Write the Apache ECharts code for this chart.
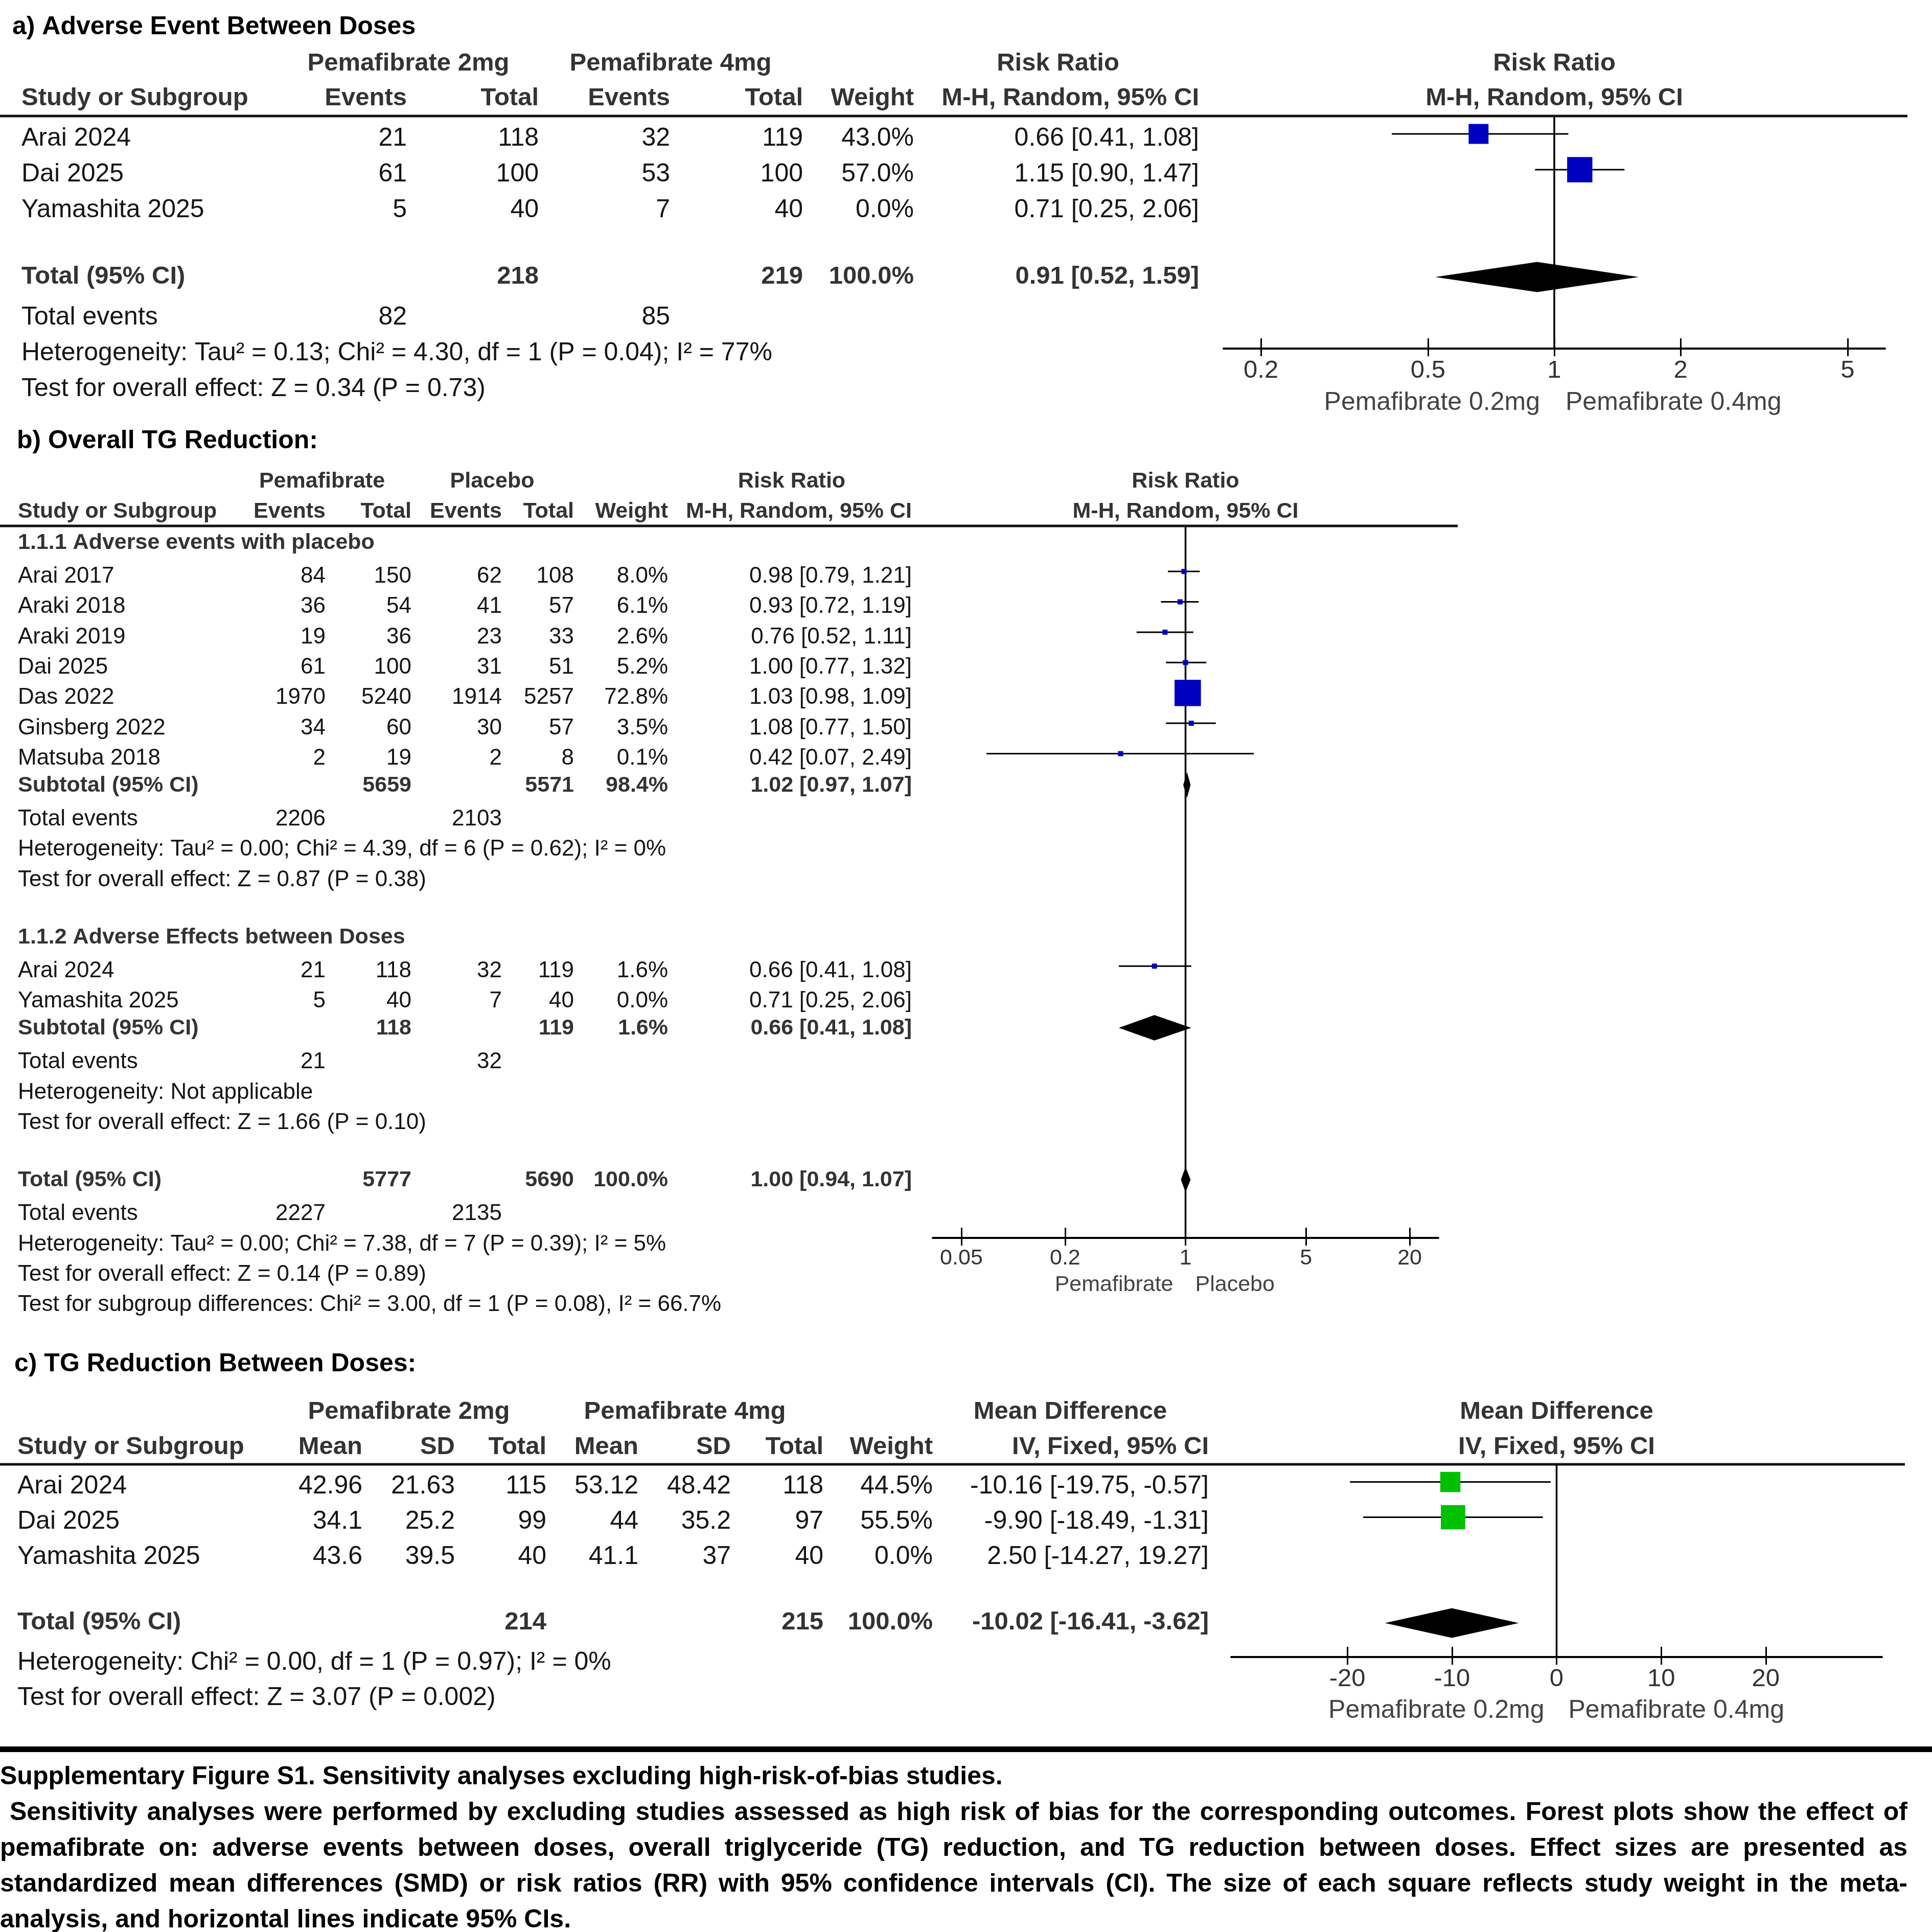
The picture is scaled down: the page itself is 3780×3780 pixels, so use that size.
<!DOCTYPE html>
<html>
<head>
<meta charset="utf-8">
<title>Supplementary Figure S1</title>
<script src="https://cdn.jsdelivr.net/npm/echarts@6.0.0/dist/echarts.min.js"></script>
<style>
  html, body { margin: 0; padding: 0; background: #fff; }
  #main { width: 3780px; height: 3780px; }
</style>
</head>
<body>
<div id="main"></div>
<script>
var FONT = '"Liberation Sans", Arial, Helvetica, sans-serif';

// ---- a) Adverse Event Between Doses ----
var aStudy = ['Arai 2024', 'Dai 2025', 'Yamashita 2025'];
var aEvents1 = [21, 61, 5];
var aTotal1 = [118, 100, 40];
var aEvents2 = [32, 53, 7];
var aTotal2 = [119, 100, 40];
var aWeight = [43.0, 57.0, 0.0];
var aRR = [0.66, 1.15, 0.71];
var aLow = [0.41, 0.90, 0.25];
var aHigh = [1.08, 1.47, 2.06];
var aPooled = [0.91, 0.52, 1.59];
var aSumTotal = [218, 219];
var aSumEvents = [82, 85];
var aTicks = [0.2, 0.5, 1, 2, 5];
var aHet = 'Heterogeneity: Tau² = 0.13; Chi² = 4.30, df = 1 (P = 0.04); I² = 77%';
var aTest = 'Test for overall effect: Z = 0.34 (P = 0.73)';

// ---- b) Overall TG Reduction ----
var b1Study = ['Arai 2017', 'Araki 2018', 'Araki 2019', 'Dai 2025', 'Das 2022', 'Ginsberg 2022', 'Matsuba 2018'];
var b1Events1 = [84, 36, 19, 61, 1970, 34, 2];
var b1Total1 = [150, 54, 36, 100, 5240, 60, 19];
var b1Events2 = [62, 41, 23, 31, 1914, 30, 2];
var b1Total2 = [108, 57, 33, 51, 5257, 57, 8];
var b1Weight = [8.0, 6.1, 2.6, 5.2, 72.8, 3.5, 0.1];
var b1RR = [0.98, 0.93, 0.76, 1.00, 1.03, 1.08, 0.42];
var b1Low = [0.79, 0.72, 0.52, 0.77, 0.98, 0.77, 0.07];
var b1High = [1.21, 1.19, 1.11, 1.32, 1.09, 1.50, 2.49];
var b1Sub = [1.02, 0.97, 1.07];
var b1SubTotal = [5659, 5571];
var b1SubWeight = 98.4;
var b1SubEvents = [2206, 2103];
var b1Het = 'Heterogeneity: Tau² = 0.00; Chi² = 4.39, df = 6 (P = 0.62); I² = 0%';
var b1Test = 'Test for overall effect: Z = 0.87 (P = 0.38)';

var b2Study = ['Arai 2024', 'Yamashita 2025'];
var b2Events1 = [21, 5];
var b2Total1 = [118, 40];
var b2Events2 = [32, 7];
var b2Total2 = [119, 40];
var b2Weight = [1.6, 0.0];
var b2RR = [0.66, 0.71];
var b2Low = [0.41, 0.25];
var b2High = [1.08, 2.06];
var b2Sub = [0.66, 0.41, 1.08];
var b2SubTotal = [118, 119];
var b2SubWeight = 1.6;
var b2SubEvents = [21, 32];
var b2Het = 'Heterogeneity: Not applicable';
var b2Test = 'Test for overall effect: Z = 1.66 (P = 0.10)';

var bPooled = [1.00, 0.94, 1.07];
var bSumTotal = [5777, 5690];
var bSumEvents = [2227, 2135];
var bTicks = [0.05, 0.2, 1, 5, 20];
var bHet = 'Heterogeneity: Tau² = 0.00; Chi² = 7.38, df = 7 (P = 0.39); I² = 5%';
var bTest = 'Test for overall effect: Z = 0.14 (P = 0.89)';
var bSubgroup = 'Test for subgroup differences: Chi² = 3.00, df = 1 (P = 0.08), I² = 66.7%';

// ---- c) TG Reduction Between Doses ----
var cStudy = ['Arai 2024', 'Dai 2025', 'Yamashita 2025'];
var cMean1 = [42.96, 34.1, 43.6];
var cSD1 = [21.63, 25.2, 39.5];
var cTotal1 = [115, 99, 40];
var cMean2 = [53.12, 44, 41.1];
var cSD2 = [48.42, 35.2, 37];
var cTotal2 = [118, 97, 40];
var cWeight = [44.5, 55.5, 0.0];
var cMD = [-10.16, -9.90, 2.50];
var cLow = [-19.75, -18.49, -14.27];
var cHigh = [-0.57, -1.31, 19.27];
var cPooled = [-10.02, -16.41, -3.62];
var cSumTotal = [214, 215];
var cTicks = [-20, -10, 0, 10, 20];
var cHet = 'Heterogeneity: Chi² = 0.00, df = 1 (P = 0.97); I² = 0%';
var cTest = 'Test for overall effect: Z = 3.07 (P = 0.002)';

var capTitle = 'Supplementary Figure S1. Sensitivity analyses excluding high-risk-of-bias studies.';
var capLines = [
    ' Sensitivity analyses were performed by excluding studies assessed as high risk of bias for the corresponding outcomes. Forest plots show the effect of',
    'pemafibrate on: adverse events between doses, overall triglyceride (TG) reduction, and TG reduction between doses. Effect sizes are presented as',
    'standardized mean differences (SMD) or risk ratios (RR) with 95% confidence intervals (CI). The size of each square reflects study weight in the meta-',
    'analysis, and horizontal lines indicate 95% CIs.'
];

// panel geometry (pixels) - top = header rule, bottom = x axis line
var LA = {top: 227, bottom: 682, left: 2394, right: 3688, rowH: 70, xMin: -0.788, xMax: 0.788, fs: 50};
var LB = {top: 1029, bottom: 2422, left: 1825, right: 2814, rowH: 59.4, xMin: -1.467, xMax: 1.467, fs: 44};
var LC = {top: 2865, bottom: 3242, left: 2409, right: 3682, rowH: 69, xMin: -31.1, xMax: 31.1, fs: 50};

function log10(v) { return Math.log(v) / Math.LN10; }
function ci(e, lo, hi) { return e.toFixed(2) + ' [' + lo.toFixed(2) + ', ' + hi.toFixed(2) + ']'; }
function pct(w) { return w.toFixed(1) + '%'; }
function mid(L) { return (L.left + L.right) / 2; }

// row helpers: kind = 'hdr' | 'bold' | 'body'
function row(y, kind, cells) { return {y: y, kind: kind, cells: cells}; }

// ---------- table rows ----------
var aRows = [
    row(-1.47, 'hdr', [['Pemafibrate 2mg', 799, 'center'], ['Pemafibrate 4mg', 1312, 'center'], ['Risk Ratio', 2070, 'center'], ['Risk Ratio', mid(LA), 'center']]),
    row(-0.5, 'hdr', [['Study or Subgroup', 42, 'left'], ['Events', 796, 'right'], ['Total', 1054, 'right'], ['Events', 1311, 'right'],
        ['Total', 1571, 'right'], ['Weight', 1788, 'right'], ['M-H, Random, 95% CI', 2346, 'right'], ['M-H, Random, 95% CI', mid(LA), 'center']])
];
aStudy.forEach(function (s, i) {
    aRows.push(row(i + 0.63, 'body', [[s, 42, 'left'], [String(aEvents1[i]), 796, 'right'], [String(aTotal1[i]), 1054, 'right'],
        [String(aEvents2[i]), 1311, 'right'], [String(aTotal2[i]), 1571, 'right'], [pct(aWeight[i]), 1788, 'right'],
        [ci(aRR[i], aLow[i], aHigh[i]), 2346, 'right']]));
});
aRows.push(row(4.49, 'bold', [['Total (95% CI)', 42, 'left'], [String(aSumTotal[0]), 1054, 'right'], [String(aSumTotal[1]), 1571, 'right'],
    [pct(100), 1788, 'right'], [ci(aPooled[0], aPooled[1], aPooled[2]), 2346, 'right']]));
aRows.push(row(5.63, 'body', [['Total events', 42, 'left'], [String(aSumEvents[0]), 796, 'right'], [String(aSumEvents[1]), 1311, 'right']]));
aRows.push(row(6.63, 'body', [[aHet, 42, 'left']]));
aRows.push(row(7.63, 'body', [[aTest, 42, 'left']]));

var BX = {name: 35, ev1: 637, n1: 805, ev2: 982, n2: 1123, w: 1307, ci: 1784};
var bRows = [
    row(-1.47, 'hdr', [['Pemafibrate', 630, 'center'], ['Placebo', 963, 'center'], ['Risk Ratio', 1549, 'center'], ['Risk Ratio', mid(LB), 'center']]),
    row(-0.47, 'hdr', [['Study or Subgroup', BX.name, 'left'], ['Events', BX.ev1, 'right'], ['Total', BX.n1, 'right'], ['Events', BX.ev2, 'right'],
        ['Total', BX.n2, 'right'], ['Weight', BX.w, 'right'], ['M-H, Random, 95% CI', BX.ci, 'right'], ['M-H, Random, 95% CI', mid(LB), 'center']])
];
function bGroup(start, title, st, e1, n1, e2, n2, w, rr, lo, hi, sub, subN, subW, subE, het, test) {
    bRows.push(row(start + 0.55, 'bold', [[title, BX.name, 'left']]));
    st.forEach(function (s, i) {
        bRows.push(row(start + 1 + i + 0.66, 'body', [[s, BX.name, 'left'], [String(e1[i]), BX.ev1, 'right'], [String(n1[i]), BX.n1, 'right'],
            [String(e2[i]), BX.ev2, 'right'], [String(n2[i]), BX.n2, 'right'], [pct(w[i]), BX.w, 'right'], [ci(rr[i], lo[i], hi[i]), BX.ci, 'right']]));
    });
    var k = start + 1 + st.length;
    bRows.push(row(k + 0.55, 'bold', [['Subtotal (95% CI)', BX.name, 'left'], [String(subN[0]), BX.n1, 'right'], [String(subN[1]), BX.n2, 'right'],
        [pct(subW), BX.w, 'right'], [ci(sub[0], sub[1], sub[2]), BX.ci, 'right']]));
    bRows.push(row(k + 1.66, 'body', [['Total events', BX.name, 'left'], [String(subE[0]), BX.ev1, 'right'], [String(subE[1]), BX.ev2, 'right']]));
    bRows.push(row(k + 2.66, 'body', [[het, BX.name, 'left']]));
    bRows.push(row(k + 3.66, 'body', [[test, BX.name, 'left']]));
}
bGroup(0, '1.1.1 Adverse events with placebo', b1Study, b1Events1, b1Total1, b1Events2, b1Total2, b1Weight, b1RR, b1Low, b1High,
    b1Sub, b1SubTotal, b1SubWeight, b1SubEvents, b1Het, b1Test);
bGroup(13, '1.1.2 Adverse Effects between Doses', b2Study, b2Events1, b2Total1, b2Events2, b2Total2, b2Weight, b2RR, b2Low, b2High,
    b2Sub, b2SubTotal, b2SubWeight, b2SubEvents, b2Het, b2Test);
bRows.push(row(21.55, 'bold', [['Total (95% CI)', BX.name, 'left'], [String(bSumTotal[0]), BX.n1, 'right'], [String(bSumTotal[1]), BX.n2, 'right'],
    [pct(100), BX.w, 'right'], [ci(bPooled[0], bPooled[1], bPooled[2]), BX.ci, 'right']]));
bRows.push(row(22.66, 'body', [['Total events', BX.name, 'left'], [String(bSumEvents[0]), BX.ev1, 'right'], [String(bSumEvents[1]), BX.ev2, 'right']]));
bRows.push(row(23.66, 'body', [[bHet, BX.name, 'left']]));
bRows.push(row(24.66, 'body', [[bTest, BX.name, 'left']]));
bRows.push(row(25.66, 'body', [[bSubgroup, BX.name, 'left']]));

var CX = {name: 34, m1: 709, sd1: 890, n1: 1069, m2: 1249, sd2: 1430, n2: 1611, w: 1825, ci: 2365};
var cRows = [
    row(-1.49, 'hdr', [['Pemafibrate 2mg', 800, 'center'], ['Pemafibrate 4mg', 1340, 'center'], ['Mean Difference', 2094, 'center'], ['Mean Difference', mid(LC), 'center']]),
    row(-0.49, 'hdr', [['Study or Subgroup', CX.name, 'left'], ['Mean', CX.m1, 'right'], ['SD', CX.sd1, 'right'], ['Total', CX.n1, 'right'],
        ['Mean', CX.m2, 'right'], ['SD', CX.sd2, 'right'], ['Total', CX.n2, 'right'], ['Weight', CX.w, 'right'],
        ['IV, Fixed, 95% CI', CX.ci, 'right'], ['IV, Fixed, 95% CI', mid(LC), 'center']])
];
cStudy.forEach(function (s, i) {
    cRows.push(row(i + 0.63, 'body', [[s, CX.name, 'left'], [String(cMean1[i]), CX.m1, 'right'], [String(cSD1[i]), CX.sd1, 'right'],
        [String(cTotal1[i]), CX.n1, 'right'], [String(cMean2[i]), CX.m2, 'right'], [String(cSD2[i]), CX.sd2, 'right'],
        [String(cTotal2[i]), CX.n2, 'right'], [pct(cWeight[i]), CX.w, 'right'], [ci(cMD[i], cLow[i], cHigh[i]), CX.ci, 'right']]));
});
cRows.push(row(4.49, 'bold', [['Total (95% CI)', CX.name, 'left'], [String(cSumTotal[0]), CX.n1, 'right'], [String(cSumTotal[1]), CX.n2, 'right'],
    [pct(100), CX.w, 'right'], [ci(cPooled[0], cPooled[1], cPooled[2]), CX.ci, 'right']]));
cRows.push(row(5.63, 'body', [[cHet, CX.name, 'left']]));
cRows.push(row(6.63, 'body', [[cTest, CX.name, 'left']]));

// ---------- series builders ----------
function tableSeries(gi, rows, fs) {
    return {
        type: 'custom', xAxisIndex: gi, yAxisIndex: gi, silent: true, z: 5,
        data: rows.map(function (r, i) { return [0, r.y, i]; }),
        encode: {x: 0, y: 1},
        renderItem: function (params, api) {
            var r = rows[api.value(2)];
            var py = api.coord([api.value(0), api.value(1)])[1];
            var bold = r.kind !== 'body';
            return {
                type: 'group',
                children: r.cells.map(function (c) {
                    return {
                        type: 'text', x: c[1], y: py,
                        style: {
                            text: c[0], textAlign: c[2], textVerticalAlign: 'middle',
                            font: (bold ? 'bold ' : '') + (bold ? fs - 1 : fs) + 'px ' + FONT,
                            fill: bold ? '#333' : '#151515'
                        }
                    };
                })
            };
        }
    };
}

function ciSeries(gi, L, est, lo, hi, w, firstSlot, isLog, color) {
    var tr = isLog ? log10 : function (v) { return v; };
    return {
        type: 'custom', xAxisIndex: gi, yAxisIndex: gi, silent: true, z: 4,
        data: est.map(function (e, i) { return [tr(e), tr(lo[i]), tr(hi[i]), firstSlot + i + 0.5, w[i]]; }),
        encode: {x: [0, 1, 2], y: 3},
        renderItem: function (params, api) {
            var wt = api.value(4);
            if (!(wt > 0)) return null;   // zero-weight studies are not plotted
            var y = api.value(3);
            var p0 = api.coord([api.value(1), y]);
            var p1 = api.coord([api.value(2), y]);
            var pc = api.coord([api.value(0), y]);
            var side = Math.max(10, 0.0227 * L.rowH * Math.pow(wt, 0.85));
            return {
                type: 'group',
                children: [
                    {type: 'line', shape: {x1: p0[0], y1: p0[1], x2: p1[0], y2: p1[1]}, style: {stroke: '#000', lineWidth: 3}},
                    {type: 'rect', shape: {x: pc[0] - side / 2, y: pc[1] - side / 2, width: side, height: side}, style: {fill: color}}
                ]
            };
        }
    };
}

function diamondSeries(gi, L, items, isLog) {
    var tr = isLog ? log10 : function (v) { return v; };
    return {
        type: 'custom', xAxisIndex: gi, yAxisIndex: gi, silent: true, z: 4,
        data: items.map(function (d) { return [tr(d[0][0]), tr(d[0][1]), tr(d[0][2]), d[1]]; }),
        encode: {x: [0, 1, 2], y: 3},
        renderItem: function (params, api) {
            var y = api.value(3);
            var c = api.coord([api.value(0), y]);
            var l = api.coord([api.value(1), y]);
            var r = api.coord([api.value(2), y]);
            var h = L.rowH * 0.42;
            return {
                type: 'polygon',
                shape: {points: [[l[0], c[1]], [c[0], c[1] - h], [r[0], c[1]], [c[0], c[1] + h]]},
                style: {fill: '#000'}
            };
        }
    };
}

function refLine(gi, L, x0) {
    return {
        type: 'line', xAxisIndex: gi, yAxisIndex: gi, silent: true, z: 3,
        symbol: 'none', data: [[x0, 0], [x0, (L.bottom - L.top) / L.rowH]],
        lineStyle: {color: '#000', width: 3.5}
    };
}

function makeGrid(L) {
    return {left: L.left, top: L.top, width: L.right - L.left, height: L.bottom - L.top, containLabel: false, outerBoundsMode: 'none'};
}

function tickVals(ticks, isLog) {
    return ticks.map(function (t) { return isLog ? log10(t) : t; });
}

function makeX(gi, L, ticks, isLog) {
    var vals = tickVals(ticks, isLog);
    return {
        type: 'value', gridIndex: gi, min: L.xMin, max: L.xMax, position: 'bottom',
        axisLine: {show: true, onZero: false, lineStyle: {color: '#000', width: 4}},
        axisTick: {show: true, inside: true, length: 20, customValues: vals, lineStyle: {color: '#000', width: 3}},
        axisLabel: {
            show: true, customValues: vals, margin: 19, fontSize: L.fs - 1, fontFamily: FONT, color: '#333',
            formatter: function (v) {
                for (var i = 0; i < vals.length; i++) {
                    if (Math.abs(vals[i] - v) < 1e-6) return String(ticks[i]);
                }
                return '';
            }
        },
        splitLine: {show: false}
    };
}

// second x axis on the same grid: only the part of each tick below the axis line
function makeTickX(gi, L, ticks, isLog) {
    var vals = tickVals(ticks, isLog);
    return {
        type: 'value', gridIndex: gi, min: L.xMin, max: L.xMax, position: 'bottom',
        axisLine: {show: false, onZero: false},
        axisTick: {show: true, inside: false, length: 15, customValues: vals, lineStyle: {color: '#000', width: 3}},
        axisLabel: {show: false},
        splitLine: {show: false}
    };
}

function makeY(gi, L) {
    return {type: 'value', gridIndex: gi, min: 0, max: (L.bottom - L.top) / L.rowH, inverse: true, show: false};
}

// ---------- graphic: titles, rules, axis captions, figure legend ----------
var graphics = [];
function gText(txt, x, y, align, font, fill) {
    graphics.push({
        type: 'text', x: x, y: y, silent: true,
        style: {text: txt, textAlign: align, textVerticalAlign: 'middle', font: font, fill: fill}
    });
}
function gRule(x1, x2, y, w) {
    graphics.push({type: 'line', silent: true, shape: {x1: x1, y1: y, x2: x2, y2: y}, style: {stroke: '#111', lineWidth: w}});
}

gText('a) Adverse Event Between Doses', 24, 53, 'left', 'bold 50px ' + FONT, '#000');
gText('b) Overall TG Reduction:', 33, 863, 'left', 'bold 50px ' + FONT, '#000');
gText('c) TG Reduction Between Doses:', 28, 2669, 'left', 'bold 50px ' + FONT, '#000');

gRule(0, 3732, LA.top, 5);
gRule(0, 2852, LB.top, 5);
gRule(0, 3727, LC.top, 5);

gText('Pemafibrate 0.2mg', mid(LA) - 28, 788, 'right', '50px ' + FONT, '#444');
gText('Pemafibrate 0.4mg', mid(LA) + 22, 788, 'left', '50px ' + FONT, '#444');
gText('Pemafibrate', mid(LB) - 24, 2514, 'right', '43px ' + FONT, '#444');
gText('Placebo', mid(LB) + 19, 2514, 'left', '43px ' + FONT, '#444');
gText('Pemafibrate 0.2mg', mid(LC) - 24, 3347, 'right', '50px ' + FONT, '#444');
gText('Pemafibrate 0.4mg', mid(LC) + 23, 3347, 'left', '50px ' + FONT, '#444');

graphics.push({type: 'rect', silent: true, shape: {x: 0, y: 3417, width: 3780, height: 11}, style: {fill: '#000'}});

var capFont = 'bold 50px ' + FONT;
var measure = document.createElement('canvas').getContext('2d');
measure.font = capFont;
function capLine(txt, y, x0, x1, justify) {
    var words = txt.trim().split(/\s+/);
    var widths = words.map(function (w) { return measure.measureText(w).width; });
    var sum = widths.reduce(function (s, v) { return s + v; }, 0);
    var gap = measure.measureText(' ').width;
    if (justify && words.length > 1) gap = Math.max(gap * 0.6, (x1 - x0 - sum) / (words.length - 1));
    var x = x0;
    words.forEach(function (w, i) {
        gText(w, x, y, 'left', capFont, '#000');
        x += widths[i] + gap;
    });
}
capLine(capTitle, 3477, 0, 3780, false);
capLines.forEach(function (ln, i) {
    var lead = ln.charAt(0) === ' ' ? 19 : 0;
    capLine(ln, 3547 + i * 70, lead, 3732, i < capLines.length - 1);
});

// ---------- chart ----------
var myChart = echarts.init(document.getElementById('main'), null, {renderer: 'canvas'});
var option = {
    backgroundColor: '#fff',
    animation: false,
    textStyle: {fontFamily: FONT},
    grid: [makeGrid(LA), makeGrid(LB), makeGrid(LC)],
    xAxis: [
        makeX(0, LA, aTicks, true), makeX(1, LB, bTicks, true), makeX(2, LC, cTicks, false),
        makeTickX(0, LA, aTicks, true), makeTickX(1, LB, bTicks, true), makeTickX(2, LC, cTicks, false)
    ],
    yAxis: [makeY(0, LA), makeY(1, LB), makeY(2, LC)],
    series: [
        refLine(0, LA, 0),
        ciSeries(0, LA, aRR, aLow, aHigh, aWeight, 0, true, '#0000c0'),
        diamondSeries(0, LA, [[aPooled, 4.5]], true),
        tableSeries(0, aRows, LA.fs),

        refLine(1, LB, 0),
        ciSeries(1, LB, b1RR, b1Low, b1High, b1Weight, 1, true, '#0000c0'),
        ciSeries(1, LB, b2RR, b2Low, b2High, b2Weight, 14, true, '#0000c0'),
        diamondSeries(1, LB, [[b1Sub, 8.53], [b2Sub, 16.53], [bPooled, 21.53]], true),
        tableSeries(1, bRows, LB.fs),

        refLine(2, LC, 0),
        ciSeries(2, LC, cMD, cLow, cHigh, cWeight, 0, false, '#00c000'),
        diamondSeries(2, LC, [[cPooled, 4.5]], false),
        tableSeries(2, cRows, LC.fs)
    ],
    graphic: {elements: graphics}
};
myChart.setOption(option);
</script>
</body>
</html>
